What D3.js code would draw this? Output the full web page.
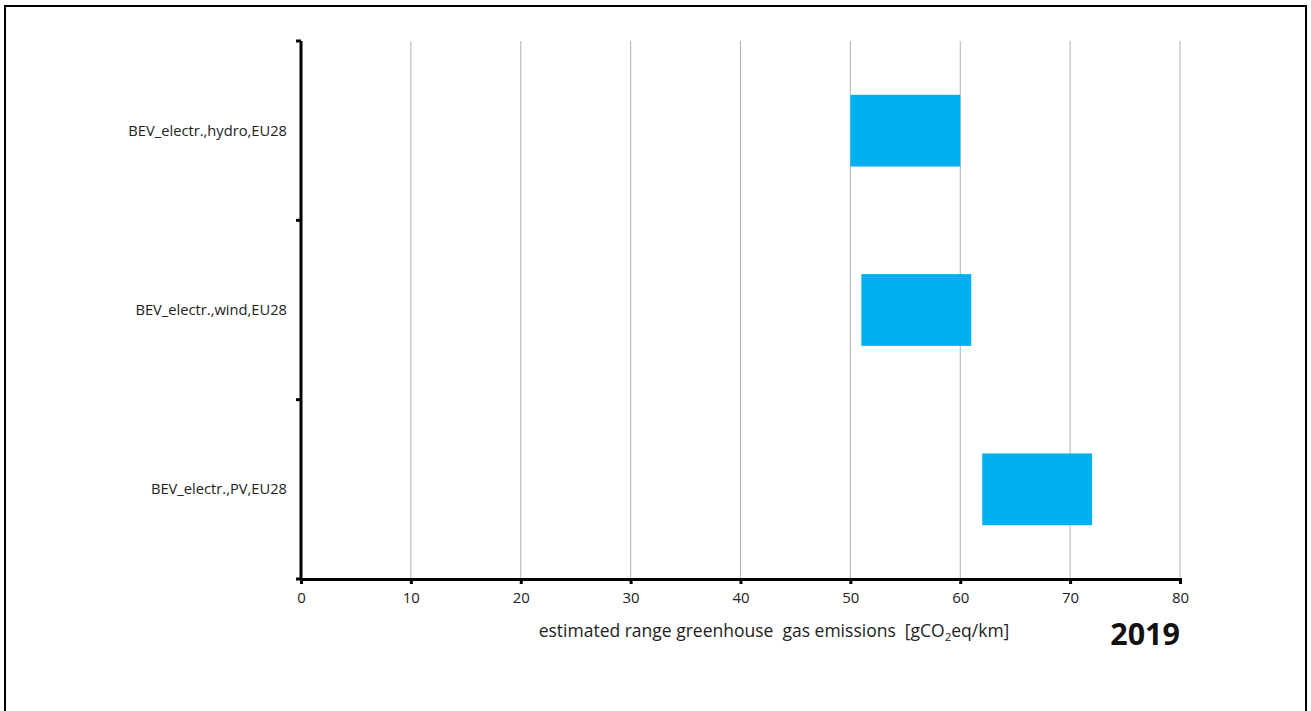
<!DOCTYPE html>
<html><head><meta charset="utf-8">
<script src="https://cdn.jsdelivr.net/npm/d3@7"></script>
<style>body{margin:0;background:#fff}svg{display:block}</style>
</head><body><svg id="c" width="1311" height="711"></svg>
<script>
const categories = ["BEV_electr.,hydro,EU28","BEV_electr.,wind,EU28","BEV_electr.,PV,EU28"];
const lowValues = [50, 51, 62];
const highValues = [60, 61, 72];
const xTicks = [0,10,20,30,40,50,60,70,80];
const yearLabel = "2019";

const svg = d3.select("#c");
const font = "'Open Sans', sans-serif";
// frame
svg.append("rect").attr("x",5).attr("y",6).attr("width",1301).attr("height",720)
  .attr("fill","none").attr("stroke","#000").attr("stroke-width",2);

const x = d3.scaleLinear().domain([0,80]).range([301,1180]);
const y = d3.scaleBand().domain(categories).range([41,579]).padding(0);

// gridlines
svg.append("g").selectAll("line").data(xTicks.filter(d=>d>0)).join("line")
  .attr("x1",d=>x(d)).attr("x2",d=>x(d)).attr("y1",41).attr("y2",579)
  .attr("stroke","#b0b0b0").attr("stroke-width",1);

// bars
const data = categories.map((c,i)=>({c,lo:lowValues[i],hi:highValues[i]}));
svg.append("g").selectAll("rect").data(data).join("rect")
  .attr("x",d=>x(d.lo)).attr("width",d=>x(d.hi)-x(d.lo))
  .attr("y",d=>y(d.c)+y.bandwidth()*0.3).attr("height",y.bandwidth()*0.4)
  .attr("fill","#00b0f0");

// x axis
const xa = svg.append("g").attr("transform","translate(0,579)")
  .call(d3.axisBottom(x).tickValues(xTicks).tickSize(5).tickPadding(8));
xa.select(".domain").attr("stroke","#000").attr("stroke-width",3);
xa.selectAll(".tick line").attr("stroke","#000").attr("stroke-width",3);
xa.selectAll("text").attr("font-family",font).attr("font-size",15).attr("fill","#222");

// y axis
const ya = svg.append("g").attr("transform","translate(301,0)");
ya.append("line").attr("x1",0).attr("x2",0).attr("y1",41).attr("y2",580)
  .attr("stroke","#000").attr("stroke-width",3);
const bounds = categories.map(c=>y(c)).concat([y.range()[1]]);
ya.selectAll("line.t").data(bounds).join("line").attr("class","t")
  .attr("x1",-5).attr("x2",0).attr("y1",d=>d).attr("y2",d=>d)
  .attr("stroke","#000").attr("stroke-width",3);
ya.selectAll("text").data(categories).join("text")
  .attr("x",-14).attr("y",d=>y(d)+y.bandwidth()/2).attr("dy","0.35em")
  .attr("text-anchor","end").attr("font-family",font).attr("font-size",14.7).attr("fill","#222")
  .text(d=>d);

// axis title
const t = svg.append("text").attr("x",774).attr("y",637).attr("text-anchor","middle")
  .attr("font-family",font).attr("font-size",17.5).attr("fill","#222")
  .attr("xml:space","preserve");
t.append("tspan").text("estimated range greenhouse  gas emissions  [gCO");
t.append("tspan").attr("font-size",11.5).attr("dy",4).text("2");
t.append("tspan").attr("dy",-4).text("eq/km]");

svg.append("text").attr("x",1180).attr("y",645).attr("text-anchor","end")
  .attr("font-family",font).attr("font-size",30.5).attr("font-weight","bold").attr("fill","#111")
  .text(yearLabel);
</script></body></html>
